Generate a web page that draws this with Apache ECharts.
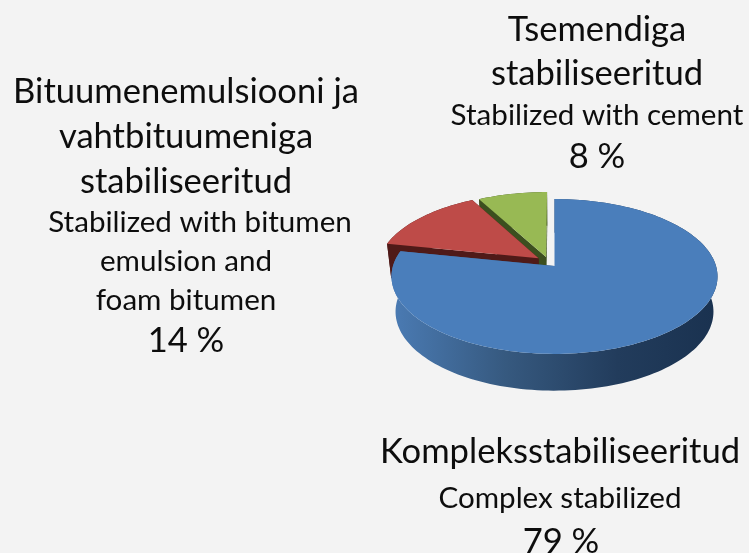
<!DOCTYPE html>
<html>
<head>
<meta charset="utf-8">
<style>
  html, body { margin: 0; padding: 0; background: #f3f3f3; }
  #main { width: 749px; height: 553px; }
</style>
<script src="https://cdn.jsdelivr.net/npm/echarts@6/dist/echarts.min.js"></script>
</head>
<body>
<div id="main"></div>
<script>
// slices in clockwise order from 12 o'clock
var names = ['Kompleksstabiliseeritud', 'Bituumenemulsiooni ja vahtbituumeniga stabiliseeritud', 'Tsemendiga stabiliseeritud'];
var values = [79, 14, 8];
var topColors = ['#4a7ebb', '#be4b48', '#98b954'];
var wallColors = [null, '#4f1a18', '#3c4f1f'];

var labelLinesBlue = ['Kompleksstabiliseeritud', 'Complex stabilized'];
var labelLinesRed = ['Bituumenemulsiooni ja', 'vahtbituumeniga', 'stabiliseeritud', 'Stabilized with bitumen', 'emulsion and', 'foam bitumen'];
var labelLinesGreen = ['Tsemendiga', 'stabiliseeritud', 'Stabilized with cement'];

// pie projection (3d look, near edge is bigger than far edge)
var cx = 554.5, apexY = 266, persp = 0.1355;
var topK = 76, topA = 161.5;
var botK = 77.5, botA = 157.5, depth = 35;
// how far each slice is pulled out, in unit disc
var explode = [[0, 0], [-0.1, 0.105], [-0.053, 0.12]];

function project(u, v, bottom) {
  var d = 1 + persp * v;
  if (bottom) return [cx + botA * u / d, apexY + depth - botK * v / d];
  return [cx + topA * u / d, apexY - topK * v / d];
}

function arc(a0, a1, off) {
  var pts = [];
  var n = Math.max(2, Math.ceil((a1 - a0) / 0.03));
  for (var i = 0; i <= n; i++) {
    var a = a0 + (a1 - a0) * i / n;
    pts.push([off[0] + Math.sin(a), off[1] + Math.cos(a)]);
  }
  return pts;
}

function renderSlice(params, api) {
  var idx = params.dataIndex;
  var total = values.reduce(function (s, x) { return s + x; }, 0);
  var before = 0;
  for (var i = 0; i < idx; i++) before += values[i];
  var a0 = before / total * Math.PI * 2;
  var a1 = (before + api.value(0)) / total * Math.PI * 2;
  var off = explode[idx];
  var rim = arc(a0, a1, off);
  var base = (3 - idx) * 10;
  var wallFill = wallColors[idx] || {
    type: 'linear', x: 395, y: 0, x2: 713, y2: 0, global: true,
    colorStops: [
      { offset: 0, color: '#4a7ab2' },
      { offset: 0.35, color: '#36597f' },
      { offset: 0.7, color: '#223c5c' },
      { offset: 1, color: '#1a3250' }
    ]
  };
  function topPt(p) { return project(p[0], p[1]); }
  function botPt(p) { return project(p[0], p[1], true); }
  function face(pa, pb) {
    return {
      type: 'polygon', z2: base,
      shape: { points: [topPt(pa), topPt(pb), botPt(pb), botPt(pa)] },
      style: { fill: wallFill }
    };
  }
  var band = rim.map(topPt).concat(rim.slice().reverse().map(botPt));
  return {
    type: 'group',
    children: [
      face(off, rim[0]),
      face(off, rim[rim.length - 1]),
      { type: 'polygon', z2: base, shape: { points: band }, style: { fill: wallFill } },
      {
        type: 'polygon', z2: base + 1,
        shape: { points: [topPt(off)].concat(rim.map(topPt)) },
        style: { fill: topColors[idx] }
      }
    ]
  };
}

function line(text, x, y, size) {
  return {
    type: 'text', x: x, y: y,
    style: { text: text, fill: '#0d0d0d', font: size + 'px Lato', align: 'center', verticalAlign: 'middle' }
  };
}

var bigSize = 34.6, smallSize = 29.6;
var textItems = [
  line(labelLinesGreen[0], 597, 29.5, bigSize),
  line(labelLinesGreen[1], 597, 73.5, bigSize),
  line(labelLinesGreen[2], 597, 115.5, smallSize),
  line(values[2] + ' %', 597, 156.5, bigSize),
  line(labelLinesRed[0], 186, 91.5, bigSize),
  line(labelLinesRed[1], 186, 136.5, bigSize),
  line(labelLinesRed[2], 186, 181.5, bigSize),
  line(labelLinesRed[3], 200, 222.5, smallSize),
  line(labelLinesRed[4], 186, 261.5, smallSize),
  line(labelLinesRed[5], 186, 300.5, smallSize),
  line(values[1] + ' %', 186, 340.5, bigSize),
  line(labelLinesBlue[0], 560, 451.5, bigSize),
  line(labelLinesBlue[1], 560, 498.5, smallSize),
  line(values[0] + ' %', 561, 542, bigSize)
];

var myChart = echarts.init(document.getElementById('main'), null, { renderer: 'canvas' });
myChart.setOption({
  backgroundColor: '#f3f3f3',
  animation: false,
  series: [{
    type: 'custom',
    coordinateSystem: 'none',
    silent: true,
    renderItem: renderSlice,
    data: values.map(function (v, i) { return { name: names[i], value: [v] }; })
  }],
  graphic: { elements: textItems }
});
</script>
</body>
</html>
